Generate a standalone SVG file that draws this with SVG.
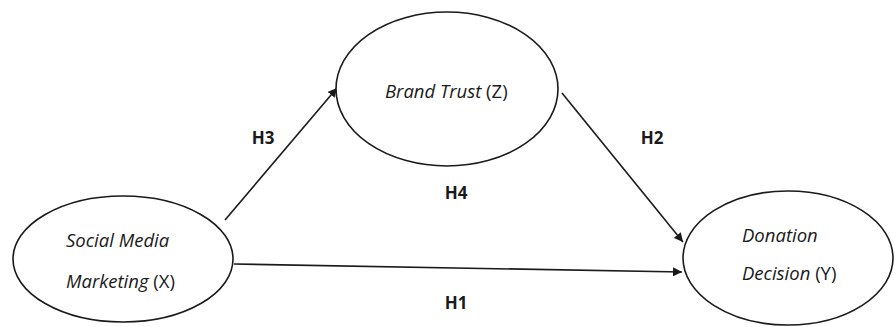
<svg xmlns="http://www.w3.org/2000/svg" width="896" height="327" viewBox="0 0 896 327">
<defs>
<style>
.node{fill:#fff;stroke:#1a1a1a;stroke-width:1.6}
.lbl{font-family:"Open Sans","Liberation Sans",sans-serif;font-size:18.5px;fill:#1a1a1a}
.it{font-style:italic}
.h{font-family:"Open Sans","Liberation Sans",sans-serif;font-size:17px;font-weight:bold;fill:#1a1a1a;text-anchor:middle}
.edge{stroke:#1a1a1a;stroke-width:1.6;fill:none;marker-end:url(#arr)}
</style>
<marker id="arr" viewBox="0 0 10 10" refX="10" refY="5" markerWidth="9" markerHeight="9" markerUnits="userSpaceOnUse" orient="auto">
<path d="M0,0 L10,5 L0,10 z" fill="#1a1a1a"/>
</marker>
</defs>
<rect width="896" height="327" fill="#fff"/>
<g id="connectors">
<line class="edge" x1="225" y1="220" x2="337" y2="88"/>
<line class="edge" x1="562" y1="93" x2="683" y2="242"/>
<line class="edge" x1="234" y1="264" x2="682" y2="272"/>
</g>
<g id="brand-trust">
<ellipse class="node" cx="447" cy="89" rx="111" ry="77"/>
<text class="lbl" x="385" y="98"><tspan class="it">Brand Trust</tspan> (Z)</text>
</g>
<g id="social-media-marketing">
<ellipse class="node" cx="123" cy="259" rx="110" ry="63"/>
<text class="lbl" x="66" y="247"><tspan class="it">Social Media</tspan></text>
<text class="lbl" x="66" y="288"><tspan class="it">Marketing</tspan> (X)</text>
</g>
<g id="donation-decision">
<ellipse class="node" cx="788" cy="258" rx="105" ry="67"/>
<text class="lbl" x="742" y="242"><tspan class="it">Donation</tspan></text>
<text class="lbl" x="742" y="280"><tspan class="it">Decision</tspan> (Y)</text>
</g>
<g id="labels">
<text class="h" x="263" y="144">H3</text>
<text class="h" x="652" y="144">H2</text>
<text class="h" x="456" y="199">H4</text>
<text class="h" x="456" y="309">H1</text>
</g>
</svg>
